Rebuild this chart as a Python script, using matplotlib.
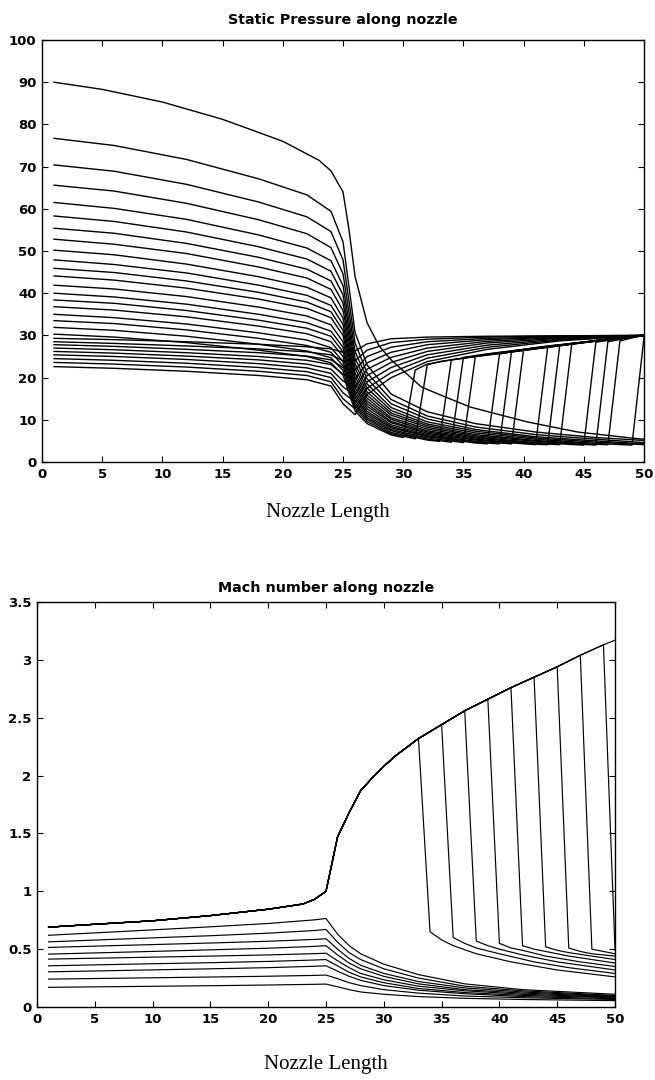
import numpy as np
import matplotlib
matplotlib.use('Agg')
import matplotlib.pyplot as plt
from matplotlib.ticker import MultipleLocator, FormatStrFormatter

# ---------------- static pressure (top) ----------------
# highest inlet pressure run, no shock
p_top_x = [1, 5, 10, 15, 20, 23, 24, 25, 25.5, 26, 27, 28, 29, 31.5, 33.5, 35.6, 40.3, 44.5, 49.2, 50]
p_top = [90, 88.3, 85.3, 81.2, 76.0, 71.5, 69.0, 64.0, 55.0, 44.0, 33.0, 27.5, 24.2, 17.8, 15.4, 13.0, 9.5, 7.1, 5.6, 5.4]

# choked runs, read at these stations
p_knots = [1, 6, 12, 18, 22, 24, 25, 26, 27, 29, 32, 36, 41, 46, 50]
p_choked = [
    [76.7, 75.0, 71.7, 67.1, 63.3, 59.4, 52.2, 30.7, 23.0, 16.1, 11.9, 9.1, 7.1, 5.8, 5.1],
    [70.4, 68.9, 65.8, 61.6, 58.1, 54.6, 47.9, 28.2, 21.1, 14.8, 10.9, 8.3, 6.5, 5.4, 4.6],
    [65.6, 64.2, 61.3, 57.4, 54.1, 50.8, 44.6, 26.2, 19.7, 13.8, 10.2, 7.7, 6.0, 5.0, 4.3],
    [61.5, 60.1, 57.5, 53.8, 50.7, 47.7, 41.8, 24.6, 18.5, 12.9, 9.5, 7.3, 5.7, 4.7, 4.1],
    [58.3, 57.0, 54.5, 51.0, 48.1, 45.2, 39.6, 23.3, 17.5, 12.2, 9.0, 6.9, 5.4, 4.4, 3.8],
    [55.4, 54.2, 51.8, 48.5, 45.7, 42.9, 37.7, 22.2, 16.6, 11.6, 8.6, 6.5, 5.1, 4.2, 3.7],
    [52.8, 51.6, 49.4, 46.2, 43.6, 40.9, 35.9, 21.1, 15.8, 11.1, 8.2, 6.2, 4.9, 4.0, 3.5],
    [50.2, 49.1, 46.9, 43.9, 41.4, 38.9, 34.1, 20.1, 15.1, 10.5, 7.8, 5.9, 4.6, 3.8, 3.3],
    [47.9, 46.8, 44.8, 41.9, 39.5, 37.1, 32.6, 19.2, 14.4, 10.1, 7.4, 5.7, 4.4, 3.6, 3.2],
    [45.9, 44.9, 42.9, 40.2, 37.9, 35.6, 31.2, 18.4, 13.8, 9.6, 7.1, 5.4, 4.2, 3.5, 3.0],
    [44.1, 43.1, 41.2, 38.6, 36.4, 34.2, 30.0, 17.6, 13.2, 9.3, 6.8, 5.2, 4.1, 3.4, 2.9],
    [41.9, 41.0, 39.2, 36.7, 34.6, 32.5, 28.5, 16.8, 12.6, 8.8, 6.5, 4.9, 3.9, 3.2, 2.8],
    [40.0, 39.1, 37.4, 35.0, 33.0, 31.0, 27.2, 16.0, 12.0, 8.4, 6.2, 4.7, 3.7, 3.0, 2.6],
    [38.4, 37.6, 35.9, 33.6, 31.7, 29.8, 26.1, 15.4, 11.5, 8.1, 6.0, 4.5, 3.5, 2.9, 2.5],
    [36.8, 36.0, 34.4, 32.2, 30.4, 28.5, 25.0, 14.7, 11.0, 7.7, 5.7, 4.3, 3.4, 2.8, 2.4],
    [35.0, 34.2, 32.7, 30.6, 28.9, 27.1, 23.8, 14.0, 10.5, 7.4, 5.4, 4.1, 3.2, 2.7, 2.3],
    [33.5, 32.8, 31.3, 29.3, 27.6, 26.0, 22.8, 13.4, 10.1, 7.0, 5.2, 4.0, 3.1, 2.5, 2.2],
    [31.9, 31.2, 29.8, 27.9, 26.3, 24.7, 21.7, 12.8, 9.6, 6.7, 4.9, 3.8, 2.9, 2.4, 2.1],
    [30.3, 29.6, 28.3, 26.5, 25.0, 23.5, 20.6, 12.1, 9.1, 6.4, 4.7, 3.6, 2.8, 2.3, 2.0],
]
# shocks for choked runs 4..18 (foot station, pressure before and after)
p_shock_x = [49, 47, 46, 45, 43, 42, 41, 39, 38, 37, 35, 34, 33, 31, 30]
p_shock_lo = [4.0, 4.1, 4.0, 4.0, 4.1, 4.1, 4.1, 4.3, 4.3, 4.3, 4.6, 4.7, 4.9, 5.5, 5.8]
p_shock_hi = [29.6, 28.7, 28.5, 28.4, 28.0, 27.6, 27.3, 26.7, 26.3, 25.6, 25.2, 24.8, 24.2, 23.0, 21.8]
p_post_x = [
    [],
    [49, 50],
    [48.5, 50],
    [48, 50],
    [46, 48, 50],
    [45, 48, 50],
    [44, 47, 50],
    [42, 45, 48, 50],
    [41, 44, 47, 50],
    [40, 43, 46, 50],
    [38, 41, 44, 47, 50],
    [37, 40, 43, 46, 50],
    [36, 39, 42, 45, 48, 50],
    [33, 35, 38, 41, 44, 47, 50],
    [32, 34, 37, 40, 43, 46, 48, 50],
]
p_post = [
    [],
    [29.4, 30.0],
    [29.3, 30.0],
    [29.2, 30.0],
    [28.8, 29.4, 30.0],
    [28.4, 29.3, 30.0],
    [28.1, 29.0, 30.0],
    [27.5, 28.4, 29.3, 30.0],
    [27.1, 28.1, 29.1, 30.0],
    [26.6, 27.7, 28.8, 30.0],
    [26.0, 27.0, 28.0, 29.0, 30.0],
    [25.6, 26.6, 27.6, 28.7, 30.0],
    [25.1, 26.1, 27.2, 28.3, 29.3, 30.0],
    [23.8, 24.6, 25.7, 26.8, 27.9, 29.0, 30.0],
    [23.2, 24.2, 25.4, 26.5, 27.6, 28.7, 29.3, 30.0],
]

# subsonic runs, recovering to the back pressure
p_sub_knots = [1, 6, 12, 18, 22, 24, 25, 26, 27, 29, 32, 37, 43, 50]
p_sub = [
    [29.3, 29.0, 28.5, 27.9, 27.3, 26.8, 26.0, 26.3, 28.0, 29.2, 29.6, 29.8, 29.9, 30.0],
    [28.5, 28.1, 27.5, 26.8, 26.1, 25.4, 24.0, 24.0, 26.5, 28.3, 29.1, 29.6, 29.9, 30.0],
    [27.8, 27.4, 26.7, 25.9, 25.1, 24.2, 22.4, 21.8, 25.0, 27.2, 28.5, 29.3, 29.7, 30.0],
    [27.0, 26.6, 25.9, 25.0, 24.1, 23.1, 20.8, 19.6, 23.5, 26.0, 27.8, 29.0, 29.6, 30.0],
    [26.2, 25.8, 25.1, 24.2, 23.2, 22.0, 19.2, 17.6, 22.0, 24.8, 27.0, 28.6, 29.5, 30.0],
    [25.4, 25.0, 24.3, 23.3, 22.3, 21.0, 17.8, 15.8, 20.5, 23.6, 26.2, 28.2, 29.3, 30.0],
    [24.5, 24.1, 23.4, 22.4, 21.4, 20.0, 16.4, 14.2, 19.0, 22.4, 25.4, 27.7, 29.1, 30.0],
    [23.6, 23.2, 22.5, 21.5, 20.5, 19.0, 15.0, 12.6, 17.5, 21.2, 24.6, 27.2, 28.9, 30.0],
    [22.6, 22.2, 21.5, 20.5, 19.5, 18.0, 13.8, 11.2, 16.0, 20.0, 23.8, 26.7, 28.7, 30.0],
]

# ---------------- mach number (bottom) ----------------
m_top_x = [1, 5, 10, 15, 20, 23, 24, 25, 26, 27, 28, 29, 30, 31, 33, 35, 37, 39, 41, 43, 45, 47, 49, 50]
m_top = [0.69, 0.715, 0.745, 0.79, 0.845, 0.89, 0.93, 1.0, 1.47, 1.68, 1.87, 1.98, 2.08, 2.17, 2.32,
         2.44, 2.56, 2.66, 2.76, 2.85, 2.94, 3.04, 3.13, 3.17]
m_shock_x = [33, 35, 37, 39, 41, 43, 45, 47, 49]
m_shock_lo = [0.65, 0.60, 0.57, 0.55, 0.53, 0.52, 0.51, 0.50, 0.49]
m_post_x = [
    [35, 36, 38, 41, 45, 50],
    [37, 38, 40, 43, 46, 50],
    [39, 40, 42, 45, 50],
    [41, 42, 44, 47, 50],
    [43, 44, 46, 48, 50],
    [45, 46, 48, 50],
    [47, 48, 50],
    [49, 50],
    [],
]
m_post = [
    [0.58, 0.53, 0.46, 0.39, 0.32, 0.26],
    [0.55, 0.51, 0.46, 0.39, 0.34, 0.29],
    [0.53, 0.50, 0.45, 0.39, 0.32],
    [0.51, 0.49, 0.44, 0.39, 0.35],
    [0.50, 0.48, 0.44, 0.41, 0.38],
    [0.49, 0.47, 0.44, 0.41],
    [0.48, 0.46, 0.44],
    [0.48, 0.46],
    [],
]
m_sub_knots = [1, 8, 15, 20, 24, 25, 26, 27, 28, 30, 33, 37, 42, 50]
m_sub = [
    [0.62, 0.656, 0.693, 0.722, 0.753, 0.765, 0.63, 0.53, 0.46, 0.37, 0.28, 0.20, 0.15, 0.11],
    [0.563, 0.59, 0.616, 0.638, 0.661, 0.67, 0.56, 0.47, 0.41, 0.33, 0.25, 0.18, 0.14, 0.10],
    [0.515, 0.534, 0.553, 0.568, 0.584, 0.59, 0.50, 0.42, 0.36, 0.29, 0.22, 0.165, 0.13, 0.095],
    [0.457, 0.475, 0.494, 0.508, 0.524, 0.53, 0.45, 0.38, 0.33, 0.265, 0.20, 0.15, 0.12, 0.09],
    [0.414, 0.427, 0.44, 0.45, 0.461, 0.465, 0.40, 0.34, 0.29, 0.235, 0.18, 0.14, 0.11, 0.085],
    [0.356, 0.37, 0.383, 0.394, 0.406, 0.41, 0.355, 0.30, 0.26, 0.21, 0.16, 0.125, 0.10, 0.08],
    [0.304, 0.317, 0.33, 0.34, 0.352, 0.356, 0.31, 0.265, 0.23, 0.185, 0.145, 0.115, 0.09, 0.072],
    [0.241, 0.25, 0.259, 0.266, 0.273, 0.276, 0.245, 0.21, 0.185, 0.15, 0.12, 0.095, 0.08, 0.065],
    [0.17, 0.177, 0.184, 0.19, 0.196, 0.198, 0.175, 0.15, 0.13, 0.11, 0.09, 0.075, 0.065, 0.055],
]

W, H = 655, 1080
tickfont = {'family': 'DejaVu Sans', 'weight': 'bold', 'size': 9.5}


def style_axes(ax, ymax, ystep):
    ax.set_xlim(0, 50)
    ax.set_ylim(0, ymax)
    ax.xaxis.set_major_locator(MultipleLocator(5))
    ax.yaxis.set_major_locator(MultipleLocator(ystep))
    ax.tick_params(direction='in', length=4, width=0.8, top=True, right=True, pad=4)
    for lab in ax.get_xticklabels() + ax.get_yticklabels():
        lab.set_fontproperties(matplotlib.font_manager.FontProperties(**tickfont))
    for s in ax.spines.values():
        s.set_linewidth(1.0)


fig = plt.figure(figsize=(W / 100, H / 100), dpi=100)
ax1 = fig.add_axes([42 / W, 1 - 462 / H, 602 / W, 422 / H])
ax2 = fig.add_axes([37 / W, 1 - 1007 / H, 578 / W, 405 / H])

lc = 'black'
lw = 1.0

# top plot
ax1.plot(p_top_x, p_top, color=lc, lw=lw)
for i, vals in enumerate(p_choked):
    if i < 4:
        ax1.plot(p_knots, vals, color=lc, lw=lw)
        continue
    j = i - 4
    xs = p_shock_x[j]
    xx = [k for k in p_knots if k < xs] + [xs, xs + 1] + p_post_x[j]
    yy = [v for k, v in zip(p_knots, vals) if k < xs] + [p_shock_lo[j], p_shock_hi[j]] + p_post[j]
    ax1.plot(xx, yy, color=lc, lw=lw)
for vals in p_sub:
    ax1.plot(p_sub_knots, vals, color=lc, lw=lw)

# bottom plot
ax2.plot(m_top_x, m_top, color=lc, lw=0.85)
for j, xs in enumerate(m_shock_x):
    xx = [k for k in m_top_x if k <= xs] + [xs + 1] + m_post_x[j]
    yy = [v for k, v in zip(m_top_x, m_top) if k <= xs] + [m_shock_lo[j]] + m_post[j]
    ax2.plot(xx, yy, color=lc, lw=0.85)
for vals in m_sub:
    ax2.plot(m_sub_knots, vals, color=lc, lw=0.85)

style_axes(ax1, 100, 10)
style_axes(ax2, 3.5, 0.5)
ax2.yaxis.set_major_formatter(FormatStrFormatter('%g'))
for lab in ax2.get_yticklabels():
    lab.set_fontproperties(matplotlib.font_manager.FontProperties(**tickfont))

fig.text(343 / W, 1 - 20 / H, 'Static Pressure along nozzle', ha='center', va='center',
         family='DejaVu Sans', weight='bold', size=10.3)
fig.text(326 / W, 1 - 588 / H, 'Mach number along nozzle', ha='center', va='center',
         family='DejaVu Sans', weight='bold', size=10.3)
fig.text(328 / W, 1 - 512 / H, 'Nozzle Length', ha='center', va='center',
         family='Liberation Serif', size=15)
fig.text(326 / W, 1 - 1065 / H, 'Nozzle Length', ha='center', va='center',
         family='Liberation Serif', size=15)

fig.savefig('out.png', dpi=100)
